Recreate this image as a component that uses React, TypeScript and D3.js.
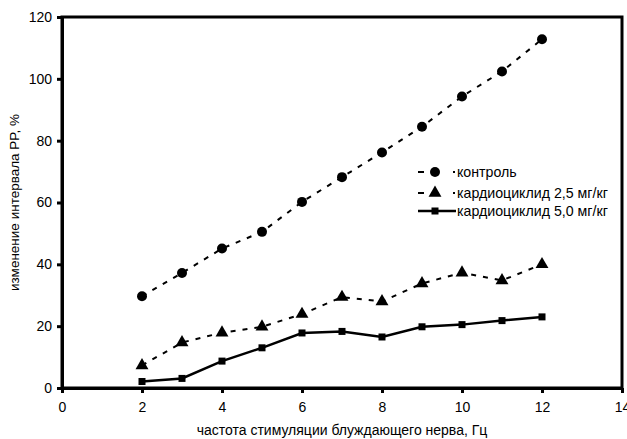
import React, { useRef, useEffect } from "react";
import * as d3 from "d3";

const freq = [2, 3, 4, 5, 6, 7, 8, 9, 10, 11, 12];
const control = [29.7, 37.2, 45.1, 50.5, 60.2, 68.2, 76.2, 84.5, 94.3, 102.4, 112.8];
const cardio25 = [7.3, 14.7, 17.9, 19.8, 23.9, 29.4, 28.0, 33.8, 37.3, 34.8, 40.0];
const cardio50 = [2.1, 3.1, 8.7, 13.0, 17.8, 18.3, 16.5, 19.8, 20.5, 21.8, 23.0];
const xTicks = [0, 2, 4, 6, 8, 10, 12, 14];
const yTicks = [0, 20, 40, 60, 80, 100, 120];
const seriesNames = ["контроль", "кардиоциклид 2,5 мг/кг", "кардиоциклид 5,0 мг/кг"];

const App = () => {
  const svgRef = useRef<SVGSVGElement>(null);

  useEffect(() => {
    const width = 627;
    const height = 439;
    const margin = { top: 17, right: 5, bottom: 51, left: 62 };
    const font = "'Liberation Sans', Arial, sans-serif";

    const svg = d3.select(svgRef.current).attr("width", width).attr("height", height).html("");

    const x = d3.scaleLinear().domain([0, 14]).range([margin.left, width - margin.right]);
    const y = d3.scaleLinear().domain([0, 120]).range([height - margin.bottom, margin.top]);

    // рамка
    svg
      .append("rect")
      .attr("x", x(0))
      .attr("y", y(120))
      .attr("width", x(14) - x(0))
      .attr("height", y(0) - y(120))
      .attr("fill", "none")
      .attr("stroke", "#000")
      .attr("stroke-width", 3);

    // оси
    const xAxis = svg
      .append("g")
      .attr("transform", `translate(0,${y(0)})`)
      .call(d3.axisBottom(x).tickValues(xTicks).tickSize(5).tickSizeOuter(0).tickPadding(9));
    const yAxis = svg
      .append("g")
      .attr("transform", `translate(${x(0)},0)`)
      .call(d3.axisLeft(y).tickValues(yTicks).tickSize(5).tickSizeOuter(0).tickPadding(5));
    [xAxis, yAxis].forEach((g) => {
      g.select(".domain").attr("stroke-width", 3);
      g.selectAll(".tick line").attr("stroke-width", 3);
      g.selectAll("text").attr("font-family", font).attr("font-size", 14).attr("fill", "#000");
    });

    const series = [
      { values: control, dash: "5,7", width: 2, marker: "circle" },
      { values: cardio25, dash: "5,7", width: 2, marker: "triangle" },
      { values: cardio50, dash: null, width: 2.5, marker: "square" },
    ];

    const line = d3
      .line<number>()
      .x((_, i) => x(freq[i]))
      .y((d) => y(d));

    const drawMarker = (g: any, type: string, cx: number, cy: number) => {
      if (type === "circle") {
        g.append("circle").attr("cx", cx).attr("cy", cy).attr("r", 5).attr("fill", "#000");
      } else if (type === "triangle") {
        g.append("path")
          .attr("d", d3.symbol(d3.symbolTriangle, 72)())
          .attr("transform", `translate(${cx},${cy})`)
          .attr("fill", "#000");
      } else {
        g.append("rect")
          .attr("x", cx - 3.5)
          .attr("y", cy - 3.5)
          .attr("width", 7)
          .attr("height", 7)
          .attr("fill", "#000");
      }
    };

    series.forEach((s) => {
      svg
        .append("path")
        .datum(s.values)
        .attr("d", line)
        .attr("fill", "none")
        .attr("stroke", "#000")
        .attr("stroke-width", s.width)
        .attr("stroke-dasharray", s.dash);
      const g = svg.append("g");
      s.values.forEach((v, i) => drawMarker(g, s.marker, x(freq[i]), y(v)));
    });

    // легенда
    const legendY = [172, 193, 211];
    series.forEach((s, i) => {
      const ly = legendY[i];
      const g = svg.append("g");
      if (s.dash) {
        g.append("line").attr("x1", 418).attr("x2", 424).attr("y1", ly).attr("y2", ly).attr("stroke", "#000").attr("stroke-width", 2);
        g.append("line").attr("x1", 453).attr("x2", 455).attr("y1", ly).attr("y2", ly).attr("stroke", "#000").attr("stroke-width", 2);
      } else {
        g.append("line").attr("x1", 418).attr("x2", 456).attr("y1", ly).attr("y2", ly).attr("stroke", "#000").attr("stroke-width", 2.5);
      }
      drawMarker(g, s.marker, 435, ly);
      g.append("text")
        .attr("x", 457)
        .attr("y", ly)
        .attr("dy", "0.35em")
        .attr("font-family", font)
        .attr("font-size", 14.2)
        .text(seriesNames[i]);
    });

    // подписи осей
    svg
      .append("text")
      .attr("x", 342)
      .attr("y", 435)
      .attr("text-anchor", "middle")
      .attr("font-family", font)
      .attr("font-size", 14)
      .text("частота стимуляции блуждающего нерва, Гц");
    svg
      .append("text")
      .attr("transform", `translate(19,${(y(0) + y(120)) / 2}) rotate(-90)`)
      .attr("text-anchor", "middle")
      .attr("font-family", font)
      .attr("font-size", 13.5)
      .text("изменение интервала PP, %");
  }, []);

  return <svg ref={svgRef} style={{ position: "absolute", left: 0, top: 0 }} />;
};

export default App;
